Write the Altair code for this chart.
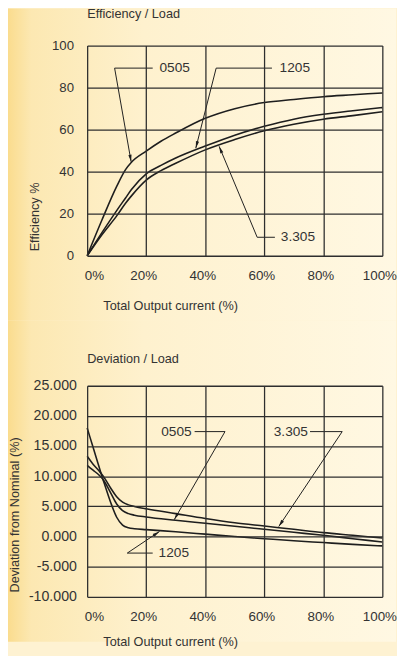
import math
import altair as alt
import pandas as pd

FONT = "Liberation Sans"
TXT = "#333333"
LINE = "#1e1e1e"
GRID = "#2e2e2e"

W = 302
H1 = 215
H2 = 216

# ---------------- Efficiency / Load ----------------
eff_load = [0, 5, 10, 13, 15, 20, 25, 30, 40, 50, 60, 70, 80, 90, 100]
eff_0505 = [0, 17, 33, 41, 44.5, 49.8, 54.5, 58.4, 65.4, 70, 72.9, 74.4, 75.7, 76.6, 77.5]
eff_1205 = [0, 11, 21.5, 27.5, 31.5, 39, 43, 46.5, 52.2, 57.4, 61.6, 65, 67.3, 69, 70.5]
eff_3305 = [0, 10, 19, 25, 28.5, 36, 40.5, 44, 50.4, 55.3, 59.5, 62.6, 65, 66.7, 68.5]

eff_ticks_x = [0, 20, 40, 60, 80, 100]
eff_ticks_y = [0, 20, 40, 60, 80, 100]

eff_note_text = ["0505", "1205", "3.305"]
eff_note_x = [24.5, 65.2, 65.6]
eff_note_y = [89.3, 89.3, 8.8]
eff_note_align = ["left", "left", "left"]
eff_stub_x = [22.2, 62.6, 63.6]
eff_elbow_x = [9.3, 43.7, 57.6]
eff_tip_x = [14.9, 36.8, 44.7]
eff_tip_y = [44.7, 51.2, 52.1]

# ---------------- Deviation / Load ----------------
dev_load = [0, 2, 4, 5, 6, 8, 10, 12, 14, 16, 20, 30, 40, 50, 60, 70, 80, 90, 100]
dev_1205 = [18, 14.8, 11.6, 10, 8.5, 5.6, 3.2, 1.9, 1.45, 1.3, 1.15, 0.8, 0.4, 0.0, -0.35, -0.7, -1.0, -1.3, -1.55]
dev_3305 = [13.3, 12.0, 10.9, 10.3, 9.6, 8.0, 6.6, 5.7, 5.25, 5.0, 4.6, 3.8, 3.0, 2.3, 1.75, 1.2, 0.65, 0.2, -0.25]
dev_0505 = [11.8, 11.0, 10.2, 9.7, 9.0, 7.2, 5.4, 4.3, 3.8, 3.55, 3.25, 2.7, 2.2, 1.7, 1.2, 0.7, 0.2, -0.35, -0.9]

dev_ticks_x = [0, 20, 40, 60, 80, 100]
dev_ticks_y = [-10, -5, 0, 5, 10, 15, 20, 25]

dev_note_text = ["0505", "3.305", "1205"]
dev_note_x = [35.4, 74.8, 24.2]
dev_note_y = [17.4, 17.4, -2.74]
dev_note_align = ["right", "right", "left"]
dev_stub_x = [36.4, 75.5, 22.2]
dev_elbow_x = [46.7, 86.4, 13.6]
dev_tip_x = [29.5, 64.9, 24.5]
dev_tip_y = [2.8, 1.65, 0.84]

GRADIENT = alt.LinearGradient(
    gradient="linear",
    x1=0, x2=1, y1=0, y2=0,
    stops=[
        alt.GradientStop(color="#FADC8E", offset=0),
        alt.GradientStop(color="#FCE8B2", offset=0.06),
        alt.GradientStop(color="#FEF1CE", offset=0.35),
        alt.GradientStop(color="#FFF8E3", offset=1),
    ],
)

ARROW = "M0,0L0.55,2.4L-0.55,2.4Z"


def long_df(xs, cols):
    rows = []
    for name, ys in cols.items():
        for x, y in zip(xs, ys):
            rows.append({"x": x, "y": y, "series": name})
    return pd.DataFrame(rows)


def panel(title, title_offset, xs, cols, xt, yt, ydom, H, ytitle, ytitle_x, ylab_pad, ylab_expr,
          ylab_size, notes, bg_top, bg_bottom, xlab_pad, xtitle_y):
    text, nx, ny, align, stub, elbow, tipx, tipy = notes
    kx = W / 100.0
    ky = H / float(ydom[1] - ydom[0])

    xscale = alt.Scale(domain=[0, 100], nice=False, zero=False)
    yscale = alt.Scale(domain=ydom, nice=False, zero=False)

    xaxis = alt.Axis(
        values=xt, tickCount=len(xt), labelExpr="datum.value + '%'", grid=True, gridColor=GRID,
        gridWidth=1.3, domain=False, ticks=False, labelPadding=xlab_pad, labelFont=FONT,
        labelFontSize=13.7, labelColor=TXT, labelFlush=False, labelOverlap=False, labelOffset=-3,
        labelAlign={"condition": {"test": "datum.value == 0", "value": "left"}, "value": "center"},
        title="Total Output current (%)", titleFont=FONT, titleFontSize=13, titleFontWeight="normal",
        titleColor=TXT, titleAlign="left", titleX=16, titleY=xtitle_y, titleBaseline="alphabetic",
        zindex=1,
    )
    yaxis = alt.Axis(
        values=yt, tickCount=len(yt), labelExpr=ylab_expr, grid=True, gridColor=GRID, gridWidth=1.3,
        domain=False, ticks=False, labelPadding=ylab_pad, labelFont=FONT, labelFontSize=ylab_size,
        labelColor=TXT, labelOverlap=False, labelFlush=False, labelSeparation=0,
        title=ytitle, titleFont=FONT, titleFontSize=13, titleFontWeight="normal", titleColor=TXT,
        titleAngle=270, titleX=ytitle_x, titleY=H - 5, titleAlign="left", titleBaseline="middle",
        zindex=1,
    )

    bg = alt.Chart(pd.DataFrame({"k": [0]})).mark_rect(fill=GRADIENT, strokeWidth=0).encode(
        x=alt.value(-81), x2=alt.value(W + 14), y=alt.value(bg_top), y2=alt.value(H + bg_bottom)
    )

    df = long_df(xs, cols)
    lines = alt.Chart(df).mark_line(color=LINE, strokeWidth=1.6, interpolate="monotone").encode(
        x=alt.X("x:Q", scale=xscale, axis=xaxis),
        y=alt.Y("y:Q", scale=yscale, axis=yaxis),
        detail="series:N",
    )

    segs = []
    heads = []
    for i in range(len(text)):
        segs.append({"x": stub[i], "y": ny[i], "x2": elbow[i], "y2": ny[i]})
        segs.append({"x": elbow[i], "y": ny[i], "x2": tipx[i], "y2": tipy[i]})
        dx = (tipx[i] - elbow[i]) * kx
        dy = (tipy[i] - ny[i]) * ky
        ang = math.degrees(math.atan2(dx, dy)) % 360
        heads.append({"x": tipx[i], "y": tipy[i], "angle": ang})
    seg_df = pd.DataFrame(segs)
    head_df = pd.DataFrame(heads)

    leaders = alt.Chart(seg_df).mark_rule(color=LINE, strokeWidth=1).encode(
        x=alt.X("x:Q", scale=xscale), y=alt.Y("y:Q", scale=yscale),
        x2="x2:Q", y2="y2:Q",
    )
    arrowheads = alt.Chart(head_df).mark_point(
        shape=ARROW, filled=True, color=LINE, size=36, opacity=1, strokeWidth=0
    ).encode(
        x=alt.X("x:Q", scale=xscale), y=alt.Y("y:Q", scale=yscale),
        angle=alt.Angle("angle:Q", scale=None),
    )

    labels = []
    for al in ["left", "right"]:
        rows = [{"x": nx[i], "y": ny[i], "t": text[i]} for i in range(len(text)) if align[i] == al]
        if rows:
            labels.append(
                alt.Chart(pd.DataFrame(rows)).mark_text(
                    align=al, baseline="middle", font=FONT, fontSize=14, color=TXT
                ).encode(x=alt.X("x:Q", scale=xscale), y=alt.Y("y:Q", scale=yscale), text="t:N")
            )

    return alt.layer(bg, lines, leaders, arrowheads, *labels).properties(
        width=W, height=H,
        title=alt.TitleParams(
            text=title, anchor="start", frame="group", font=FONT, fontSize=13,
            fontWeight="normal", color=TXT, offset=title_offset,
        ),
    )


top = panel(
    "Efficiency / Load", -13, eff_load,
    {"0505": eff_0505, "1205": eff_1205, "3.305": eff_3305},
    eff_ticks_x, eff_ticks_y, [0, 100], H1, "Efficiency %", -54, 14,
    "format(datum.value, 'd')", 13.5,
    (eff_note_text, eff_note_x, eff_note_y, eff_note_align, eff_stub_x, eff_elbow_x, eff_tip_x, eff_tip_y),
    -38, 66, 13, 55,
)

bottom = panel(
    "Deviation / Load", -47, dev_load,
    {"0505": dev_0505, "1205": dev_1205, "3.305": dev_3305},
    dev_ticks_x, dev_ticks_y, [-10, 25], H2, "Deviation from Nominal (%)", -74, 11,
    "(datum.value < 0 ? '-' : '') + format(abs(datum.value), '.3f')", 14.5,
    (dev_note_text, dev_note_x, dev_note_y, dev_note_align, dev_stub_x, dev_elbow_x, dev_tip_x, dev_tip_y),
    -67, 46, 13, 50,
)

chart = alt.vconcat(top, bottom, spacing=133, bounds="flush").properties(
    padding={"top": -7, "left": 0, "right": 0, "bottom": 0}, background="#FEF2D2"
).configure_view(stroke=None)

chart.save("out.html", embed_options={"renderer": "svg", "actions": False})
